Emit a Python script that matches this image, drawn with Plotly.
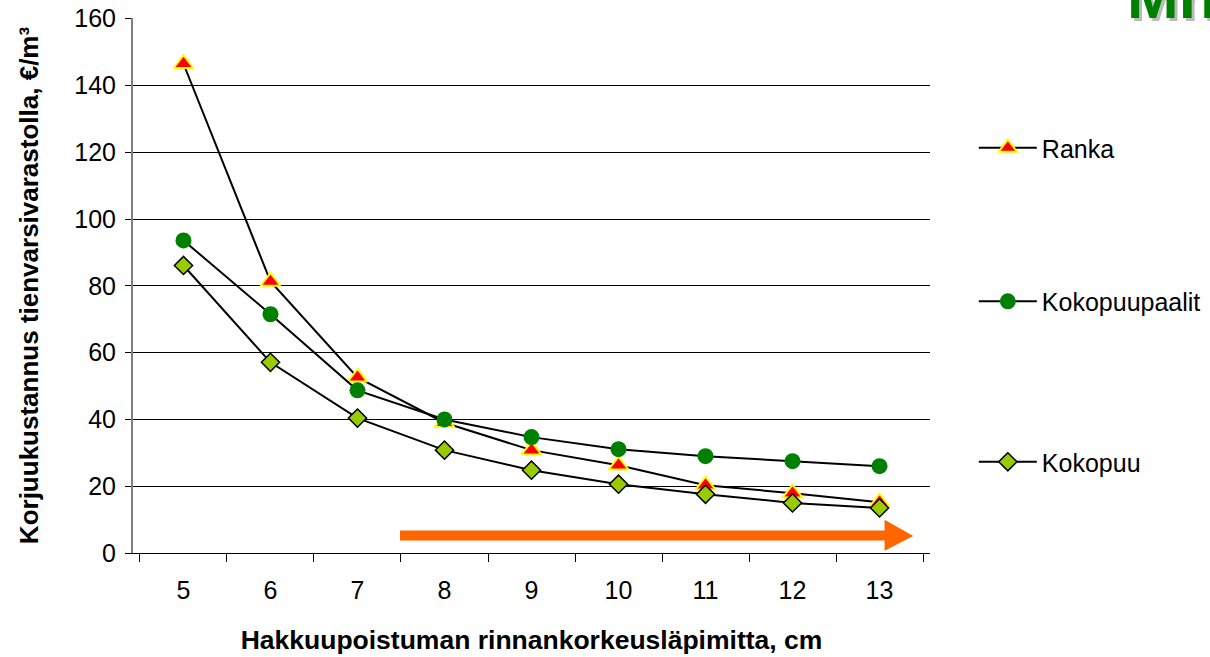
import plotly.graph_objects as go

categories = ["5", "6", "7", "8", "9", "10", "11", "12", "13"]
ranka = [146.5, 81.3, 52.6, 39.0, 30.8, 26.3, 20.3, 17.9, 15.2]
kokopuupaalit = [93.6, 71.5, 48.7, 40.0, 34.7, 31.1, 29.0, 27.5, 26.0]
kokopuu = [86.1, 57.1, 40.4, 30.8, 24.8, 20.6, 17.6, 15.0, 13.5]

FONT = "Arial, Liberation Sans, sans-serif"

fig = go.Figure()
fig.add_trace(go.Scatter(
    x=categories, y=ranka, name="Ranka", mode="lines+markers",
    line=dict(color="black", width=2),
    marker=dict(symbol="triangle-up", size=17, color="#FF0000",
                line=dict(color="#FFFF00", width=2)),
    legend="legend"))
fig.add_trace(go.Scatter(
    x=categories, y=kokopuupaalit, name="Kokopuupaalit", mode="lines+markers",
    line=dict(color="black", width=2),
    marker=dict(symbol="circle", size=16, color="#008000",
                line=dict(color="#008000", width=0)),
    legend="legend2"))
fig.add_trace(go.Scatter(
    x=categories, y=kokopuu, name="Kokopuu", mode="lines+markers",
    line=dict(color="black", width=2),
    marker=dict(symbol="diamond", size=14, color="#99CC00",
                line=dict(color="black", width=1.5)),
    legend="legend3"))

# orange arrow (decoration) in paper coordinates
arrow_path = ("M 0.335 0.0234 L 0.943 0.0234 L 0.943 0.004 L 0.979 0.032 "
              "L 0.943 0.062 L 0.943 0.0421 L 0.335 0.0421 Z")
fig.add_shape(type="path", path=arrow_path, xref="paper", yref="paper",
              fillcolor="#FF6600", line=dict(width=0), layer="above")

# cropped green title in top right corner (shadow + text)
fig.add_annotation(text="<b>Mh</b>", xref="paper", yref="paper",
                   x=1.245, y=1.0, xanchor="left", yanchor="bottom",
                   xshift=3, yshift=-18, showarrow=False,
                   font=dict(family=FONT, size=62, color="#BBBBBB"))
fig.add_annotation(text="<b>Mh</b>", xref="paper", yref="paper",
                   x=1.245, y=1.0, xanchor="left", yanchor="bottom",
                   yshift=-15, showarrow=False,
                   font=dict(family=FONT, size=62, color="#008000"))

leg_common = dict(x=1.055, xanchor="left", yanchor="middle",
                  font=dict(family=FONT, size=25, color="black"),
                  itemwidth=58, bgcolor="rgba(0,0,0,0)")

fig.update_layout(
    width=1210, height=657,
    margin=dict(l=133, r=280, t=18, b=104, autoexpand=False),
    paper_bgcolor="white", plot_bgcolor="white",
    font=dict(family=FONT, size=25, color="black"),
    showlegend=True,
    legend=dict(y=0.757, **leg_common),
    legend2=dict(y=0.470, **leg_common),
    legend3=dict(y=0.170, **leg_common),
    xaxis=dict(
        type="category", tickson="boundaries", ticks="outside", ticklen=8,
        tickcolor="black", tickwidth=1, showgrid=False, automargin=False,
        showline=True, linecolor="black", linewidth=1,
        ticklabelstandoff=15,
        tickfont=dict(family=FONT, size=25, color="black"),
        title=dict(text="<b>Hakkuupoistuman rinnankorkeusläpimitta, cm</b>",
                   font=dict(family=FONT, size=26.5, color="black"), standoff=27),
    ),
    yaxis=dict(
        range=[0, 160.2], tickvals=[0, 20, 40, 60, 80, 100, 120, 140, 160],
        ticks="outside", ticklen=6, ticklabeloverflow="allow", automargin=False,
        tickcolor="black", showgrid=True, gridcolor="black", gridwidth=1,
        showline=True, linecolor="#808080", linewidth=2, zeroline=False,
        ticklabelstandoff=4,
        tickfont=dict(family=FONT, size=25, color="black"),
        title=dict(text="<b>Korjuukustannus tienvarsivarastolla, €/m³</b>",
                   font=dict(family=FONT, size=26, color="black"), standoff=28),
    ),
)

fig.write_html("out.html",
               config={"displayModeBar": False},
               post_script="document.body.style.margin='0';document.body.style.padding='0';")
